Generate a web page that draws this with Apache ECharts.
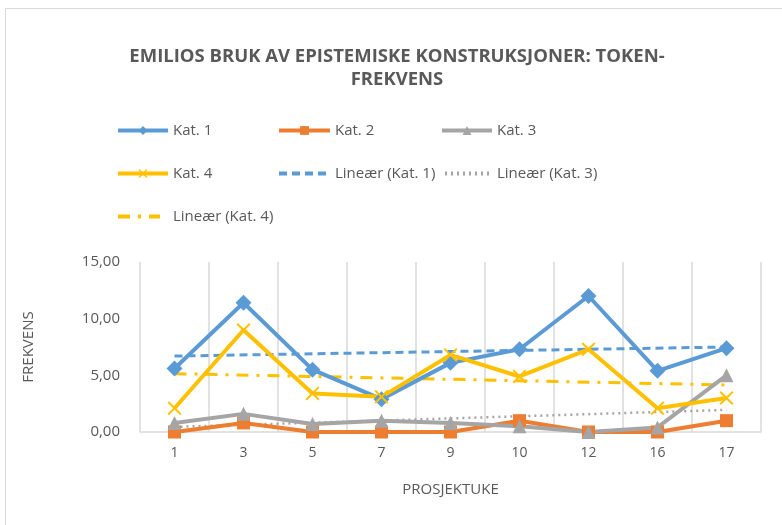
<!DOCTYPE html>
<html>
<head>
<meta charset="utf-8">
<script src="https://cdn.jsdelivr.net/npm/echarts@6/dist/echarts.min.js"></script>
<style>
    html, body { margin: 0; padding: 0; background: #fff; }
    #chart { width: 782px; height: 525px; }
</style>
</head>
<body>
<div id="chart"></div>
<script>
'use strict';

// prosjektuker
var weeks = ['1', '3', '5', '7', '9', '10', '12', '16', '17'];

var kat1 = [5.6, 11.4, 5.5, 2.9, 6.1, 7.3, 12.0, 5.4, 7.4];
var kat2 = [0, 0.8, 0, 0, 0, 1.0, 0, 0, 1.0];
var kat3 = [0.8, 1.6, 0.7, 1.0, 0.8, 0.5, 0, 0.4, 5.0];
var kat4 = [2.1, 9.0, 3.4, 3.1, 6.8, 4.9, 7.3, 2.1, 3.0];

// trendlinjer: start- og sluttverdi lest av bildet
var trend1 = [6.7, 7.5];
var trend3 = [0.45, 1.95];
var trend4 = [5.15, 4.15];

var yTicks = [0, 5, 10, 15];

var FONT = '"Open Sans", sans-serif';
var GREY = '#595959';

// strak linje mellom første og siste uke
function ends(pair) {
    var out = weeks.map(function () { return null; });
    out[0] = pair[0];
    out[out.length - 1] = pair[1];
    return out;
}

function mainLine(name, data, color, symbol, size) {
    return {
        name: name,
        type: 'line',
        data: data,
        symbol: symbol,
        symbolSize: size,
        showSymbol: true,
        lineStyle: { color: color, width: 4 },
        itemStyle: { color: color },
        z: 3
    };
}

function trendLine(name, pair, color, dash, width) {
    return {
        name: name,
        type: 'line',
        data: ends(pair),
        connectNulls: true,
        symbol: 'none',
        lineStyle: { color: color, width: width, type: dash, cap: 'butt' },
        itemStyle: { color: color },
        z: 2
    };
}

function legendAt(name, left, top, iconW, textPad, noMark) {
    return {
        data: [name],
        left: left,
        top: top,
        itemWidth: iconW,
        itemHeight: 11,
        padding: 0,
        selectedMode: false,
        lineStyle: { width: 4 },
        itemStyle: noMark ? { opacity: 0 } : {},
        textStyle: {
            fontFamily: FONT,
            fontSize: 15,
            color: GREY,
            padding: [0, 0, 0, textPad]
        }
    };
}

var xMark = 'path://M0,1L1,0L5,4L9,0L10,1L6,5L10,9L9,10L5,6L1,10L0,9L4,5Z';

var chart = echarts.init(document.getElementById('chart'));

chart.setOption({
    animation: false,
    backgroundColor: '#fff',
    graphic: [{
        type: 'rect',
        shape: { x: 5.5, y: 8.5, width: 800, height: 540 },
        style: { fill: 'none', stroke: '#d9d9d9', lineWidth: 1 },
        silent: true
    }],
    title: {
        text: 'EMILIOS BRUK AV EPISTEMISKE KONSTRUKSJONER: TOKEN-\nFREKVENS',
        left: 392,
        textAlign: 'center',
        top: 40,
        textStyle: {
            fontFamily: FONT,
            fontSize: 18.5,
            fontWeight: 'bold',
            color: GREY,
            lineHeight: 23
        }
    },
    legend: [
        legendAt('Kat. 1', 116, 123, 50, 0),
        legendAt('Kat. 2', 277, 123, 51, 0),
        legendAt('Kat. 3', 440, 123, 50, 0),
        legendAt('Kat. 4', 116, 166, 50, 0),
        legendAt('Lineær (Kat. 1)', 277, 166, 51, 0, true),
        legendAt('Lineær (Kat. 3)', 443, 166, 45, 2, true),
        legendAt('Lineær (Kat. 4)', 116, 209, 42, 8, true)
    ],
    grid: {
        left: 140,
        right: 21,
        top: 262,
        bottom: 93,
        containLabel: false
    },
    xAxis: {
        type: 'category',
        data: weeks,
        boundaryGap: true,
        name: 'PROSJEKTUKE',
        nameLocation: 'middle',
        nameGap: 50,
        nameTextStyle: { fontFamily: FONT, fontSize: 15, color: GREY },
        axisLine: { lineStyle: { color: '#d9d9d9', width: 1.5 } },
        axisTick: { show: false },
        axisLabel: { fontFamily: FONT, fontSize: 14, color: GREY, margin: 14 },
        splitLine: { show: true, lineStyle: { color: '#d9d9d9', width: 1.5 } }
    },
    yAxis: {
        type: 'value',
        min: yTicks[0],
        max: yTicks[yTicks.length - 1],
        interval: yTicks[1] - yTicks[0],
        name: 'FREKVENS',
        nameLocation: 'middle',
        nameGap: 104,
        nameTextStyle: { fontFamily: FONT, fontSize: 15, color: GREY },
        axisLine: { show: false },
        axisTick: { show: false },
        splitLine: { show: false },
        axisLabel: {
            fontFamily: FONT,
            fontSize: 15,
            color: GREY,
            margin: 20,
            formatter: function (v) {
                return v.toFixed(2).replace('.', ',');
            }
        }
    },
    series: [
        mainLine('Kat. 1', kat1, '#5B9BD5', 'diamond', 16),
        mainLine('Kat. 2', kat2, '#ED7D31', 'rect', 13),
        mainLine('Kat. 3', kat3, '#A5A5A5', 'triangle', 14),
        mainLine('Kat. 4', kat4, '#FFC000', xMark, 14),
        trendLine('Lineær (Kat. 1)', trend1, '#5B9BD5', [8, 5], 3),
        trendLine('Lineær (Kat. 3)', trend3, '#A5A5A5', [2, 4], 2.5),
        trendLine('Lineær (Kat. 4)', trend4, '#FFC000', [12, 8, 3, 8], 3)
    ]
});
</script>
</body>
</html>
